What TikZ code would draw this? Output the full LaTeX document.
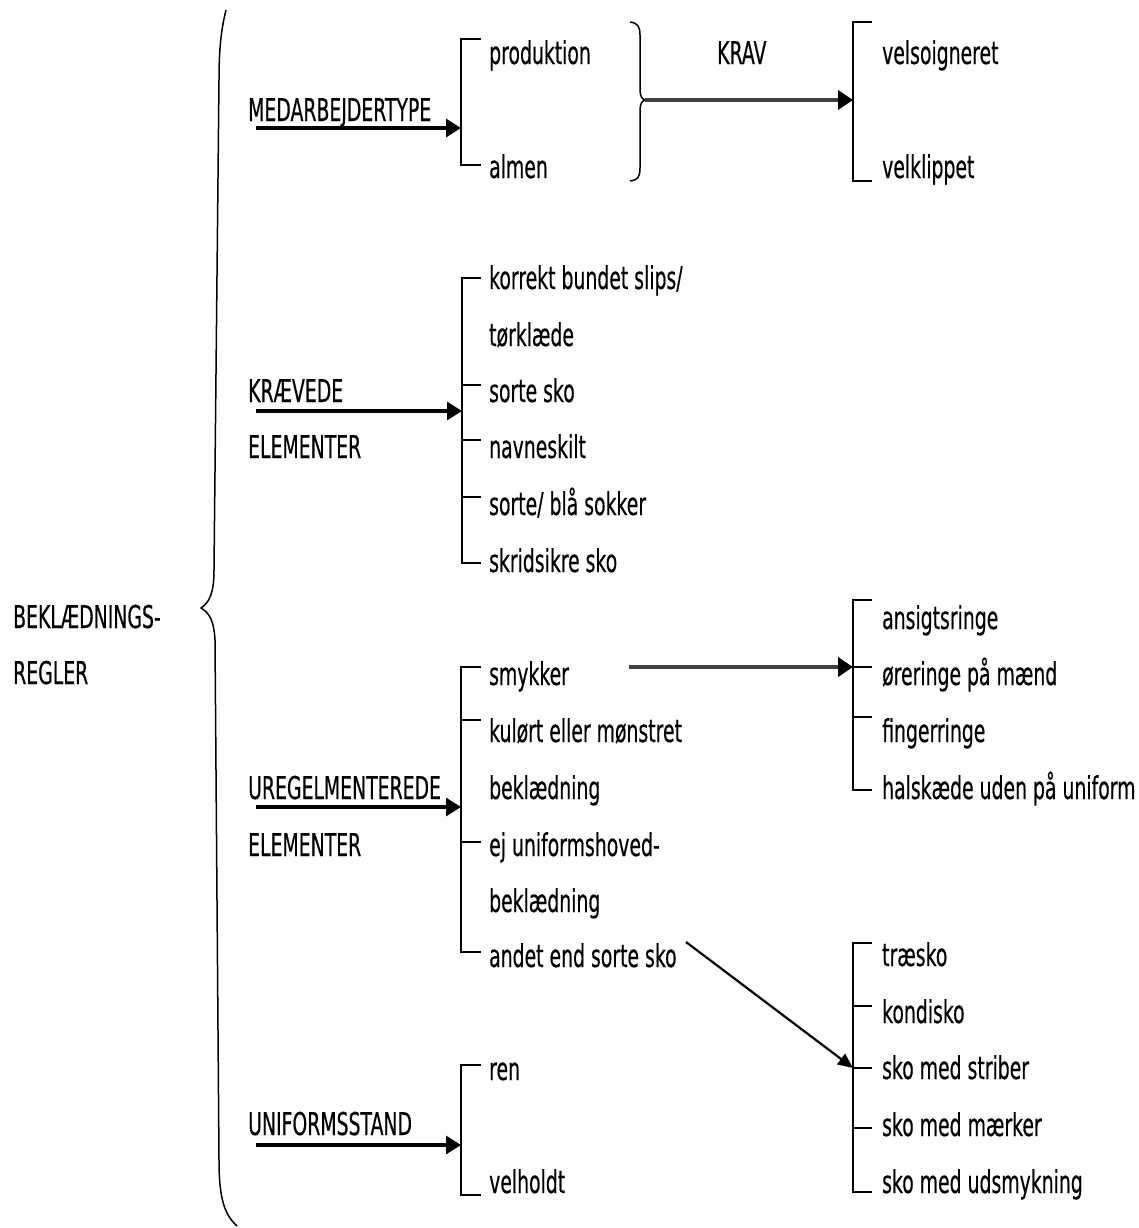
\documentclass[tikz,border=0pt]{standalone}
\usepackage{fontspec}
\setmainfont{DejaVu Sans}[FakeStretch=0.6, FakeBold=0.4]
\usetikzlibrary{arrows.meta}

\begin{document}
\begin{tikzpicture}[x=1bp,y=-1bp,
  lbl/.style={anchor=base west, inner sep=0pt, font=\fontsize{31.5}{36}\selectfont},
  spine/.style={line width=1.7bp},
  brace/.style={line width=1.5bp},
  feed/.style={line width=3.2bp, -{Triangle[length=15bp,width=18bp]}},
  link/.style={line width=3.6bp, black!75, -{Triangle[length=15bp,width=19bp,color=black]}},
  slant/.style={line width=2.2bp, -{Triangle[length=15bp,width=13bp]}}]

\useasboundingbox (0,0) rectangle (1139,1228);

% ---------- left title and large brace ----------
\node[lbl] (t1) at (13,628) {BEKLÆDNINGS-};
\node[lbl] (t2) at (13,684) {REGLER};
\draw[brace] (226,10) .. controls (221,30) and (219,50) .. (219,80)
  -- (214,570) .. controls (214,592) and (210,602) .. (201,608)
  .. controls (210,613) and (214,622) .. (215,640)
  -- (219,1160) .. controls (219,1200) and (225,1215) .. (237,1226);

% ---------- MEDARBEJDERTYPE ----------
\node[lbl] (mt) at (248,121) {MEDARBEJDERTYPE};
\coordinate (mtS) at (256,128);
\coordinate (b1t) at (461,39);
\coordinate (b1b) at (461,165);
\coordinate (b1m) at (461,128);
\draw[spine] (b1t) ++(20,0) -- (b1t) -- (b1b) -- ++(20,0);
\draw[feed] (mtS) -- (b1m);
\node[lbl] (prod) at (489,64) {produktion};
\node[lbl] (alm) at (489,178) {almen};

% brace gathering the two types
\draw[brace] (630,22) .. controls (638,23) and (640,27) .. (640,35)
  -- (640,90) .. controls (640,96) and (642,99) .. (645,100)
  .. controls (642,101) and (640,104) .. (640,110)
  -- (640,168) .. controls (640,177) and (638,180) .. (630,181);
\coordinate (kS) at (645,100);
\node[lbl] (krav) at (717,64) {KRAV};
\coordinate (b2t) at (853,22);
\coordinate (b2b) at (853,181);
\coordinate (b2m) at (853,100);
\draw[spine] (b2t) ++(19,0) -- (b2t) -- (b2b) -- ++(19,0);
\draw[link] (kS) -- (b2m);
\node[lbl] (vs) at (882,64) {velsoigneret};
\node[lbl] (vk) at (882,178) {velklippet};

% ---------- KRÆVEDE ELEMENTER ----------
\node[lbl] (ke1) at (248,402) {KRÆVEDE};
\node[lbl] (ke2) at (248,458) {ELEMENTER};
\coordinate (keS) at (256,411);
\coordinate (b3t) at (462,278);
\coordinate (b3b) at (462,563);
\coordinate (b3m) at (462,411);
\draw[spine] (b3t) ++(19,0) -- (b3t) -- (b3b) -- ++(19,0);
\foreach \yy in {385,440,497} \draw[spine] (462,\yy) -- ++(19,0);
\draw[feed] (keS) -- (b3m);
\node[lbl] (k1) at (489,289) {korrekt bundet slips/};
\node[lbl] (k1b) at (489,346) {tørklæde};
\node[lbl] (k2) at (489,402) {sorte sko};
\node[lbl] (k3) at (489,458) {navneskilt};
\node[lbl] (k4) at (489,515) {sorte/ blå sokker};
\node[lbl] (k5) at (489,572) {skridsikre sko};

% ---------- UREGELMENTEREDE ELEMENTER ----------
\node[lbl] (ue1) at (248,799) {UREGELMENTEREDE};
\node[lbl] (ue2) at (248,856) {ELEMENTER};
\coordinate (ueS) at (256,807);
\coordinate (b4t) at (461,667);
\coordinate (b4b) at (461,952);
\coordinate (b4m) at (461,807);
\draw[spine] (b4t) ++(20,0) -- (b4t) -- (b4b) -- ++(20,0);
\foreach \yy in {720,842} \draw[spine] (461,\yy) -- ++(20,0);
\draw[feed] (ueS) -- (b4m);
\node[lbl] (u1) at (489,685) {smykker};
\node[lbl] (u2) at (489,742) {kulørt eller mønstret};
\node[lbl] (u2b) at (489,799) {beklædning};
\node[lbl] (u3) at (489,856) {ej uniformshoved-};
\node[lbl] (u3b) at (489,912) {beklædning};
\node[lbl] (u4) at (489,967) {andet end sorte sko};

% jewellery
\coordinate (smS) at (629,667);
\coordinate (b5t) at (853,600);
\coordinate (b5b) at (853,790);
\coordinate (b5m) at (853,667);
\draw[spine] (b5t) ++(19,0) -- (b5t) -- (b5b) -- ++(19,0);
\foreach \yy in {667,717} \draw[spine] (853,\yy) -- ++(19,0);
\draw[link] (smS) -- (b5m);
\node[lbl] (s1) at (882,629) {ansigtsringe};
\node[lbl] (s2) at (882,685) {øreringe på mænd};
\node[lbl] (s3) at (882,742) {fingerringe};
\node[lbl] (s4) at (882,799) {halskæde uden på uniform};

% shoes
\coordinate (shS) at (686,942);
\coordinate (b6t) at (853,943);
\coordinate (b6b) at (853,1192);
\coordinate (b6m) at (853,1068);
\draw[spine] (b6t) ++(19,0) -- (b6t) -- (b6b) -- ++(19,0);
\foreach \yy in {1006,1068,1128} \draw[spine] (853,\yy) -- ++(19,0);
\draw[slant] (shS) -- (b6m);
\node[lbl] (h1) at (882,966) {træsko};
\node[lbl] (h2) at (882,1023) {kondisko};
\node[lbl] (h3) at (882,1079) {sko med striber};
\node[lbl] (h4) at (882,1136) {sko med mærker};
\node[lbl] (h5) at (882,1193) {sko med udsmykning};

% ---------- UNIFORMSSTAND ----------
\node[lbl] (us) at (248,1135) {UNIFORMSSTAND};
\coordinate (usS) at (256,1145);
\coordinate (b7t) at (461,1065);
\coordinate (b7b) at (461,1195);
\coordinate (b7m) at (461,1145);
\draw[spine] (b7t) ++(20,0) -- (b7t) -- (b7b) -- ++(20,0);
\draw[feed] (usS) -- (b7m);
\node[lbl] (r1) at (489,1080) {ren};
\node[lbl] (r2) at (489,1193) {velholdt};

\end{tikzpicture}
\end{document}
